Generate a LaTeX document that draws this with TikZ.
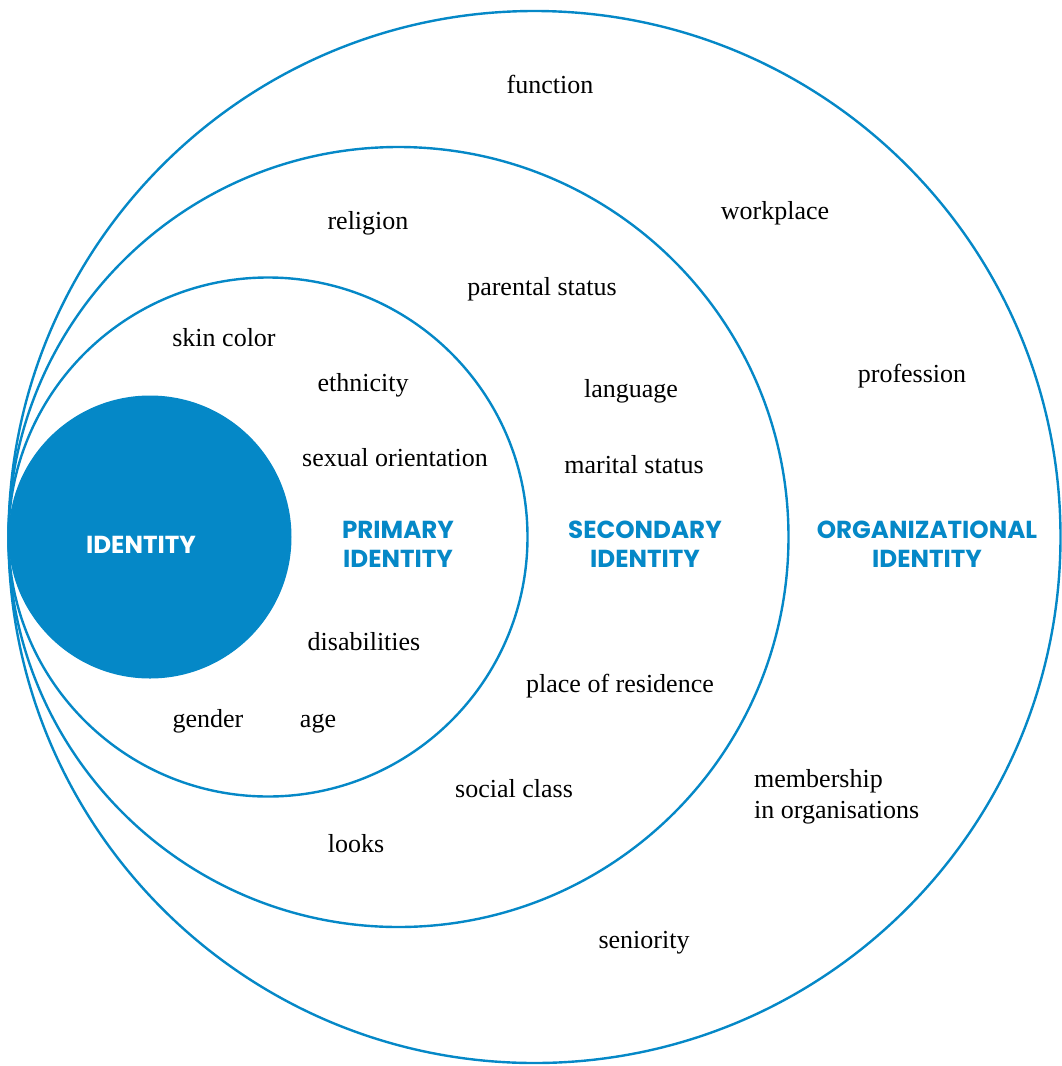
\documentclass[tikz,border=0pt]{standalone}
\usepackage{fontspec}
\setmainfont{Liberation Serif}
\newfontfamily\labelfont{Poppins}
\definecolor{idblue}{RGB}{5,136,199}
\begin{document}
\begin{tikzpicture}[x=1pt,y=-1pt,
  ring/.style={draw=idblue,line width=2.4pt},
  item/.style={font=\fontsize{26}{30}\selectfont,anchor=base,inner sep=0pt},
  lbl/.style={font=\labelfont\bfseries\fontsize{24.6}{29}\selectfont,text=idblue,align=center,inner sep=0pt}]
\useasboundingbox (0,0) rectangle (1061,1066);
\node[ring,circle,minimum size=1052pt,inner sep=0pt] (org) at (534.5,537) {};
\node[ring,circle,minimum size=780pt,inner sep=0pt] (sec) at (398.5,537) {};
\node[ring,circle,minimum size=519pt,inner sep=0pt] (pri) at (268,537) {};
\node[circle,fill=idblue,minimum size=283pt,inner sep=0pt] (id) at (150,537) {};
\node[lbl,text=white] (idl) at (141,545) {IDENTITY};
\node[lbl] (pril) at (398,544) {PRIMARY\\IDENTITY};
\node[lbl] (secl) at (645,544) {SECONDARY\\IDENTITY};
\node[lbl] (orgl) at (927,544) {ORGANIZATIONAL\\IDENTITY};
\node[item] (function) at (550,93) {function};
\node[item] (workplace) at (775,219) {workplace};
\node[item] (religion) at (368,229) {religion};
\node[item] (parental) at (542,295) {parental status};
\node[item] (skin) at (224,346) {skin color};
\node[item] (ethnicity) at (363,391) {ethnicity};
\node[item] (language) at (631,397) {language};
\node[item] (profession) at (912,382) {profession};
\node[item] (sexual) at (395,466) {sexual orientation};
\node[item] (marital) at (634,473) {marital status};
\node[item] (disab) at (364,650) {disabilities};
\node[item] (residence) at (620,692) {place of residence};
\node[item] (gender) at (208,727) {gender};
\node[item] (age) at (318,727) {age};
\node[item] (social) at (514,797) {social class};
\node[item,anchor=base west] (member) at (754,787) {membership};
\node[item,anchor=base west] (inorg) at (754,818) {in organisations};
\node[item] (looks) at (356,852) {looks};
\node[item] (seniority) at (644,948) {seniority};
\end{tikzpicture}
\end{document}
